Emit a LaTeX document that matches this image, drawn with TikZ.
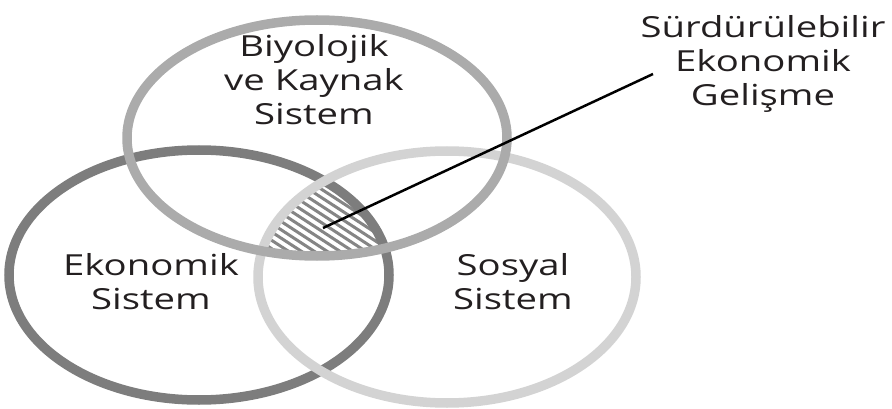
\documentclass[tikz,border=0pt]{standalone}
\usepackage{fontspec}
\setmainfont{Open Sans}[FakeStretch=1.32]
\definecolor{ringdark}{HTML}{7D7D7D}
\definecolor{ringmid}{HTML}{ABABAB}
\definecolor{ringlight}{HTML}{D3D3D3}
\definecolor{hatchgray}{HTML}{858585}
\definecolor{txt}{HTML}{231F20}
\tikzset{
  ring/.style={line width=9.5pt},
  lbl/.style={align=center, text=txt, font=\fontsize{29}{34}\selectfont, inner sep=0pt},
}
\begin{document}
\begin{tikzpicture}[x=1pt,y=-1pt]
\useasboundingbox (0,0) rectangle (892,409);
% hatched common region
\begin{scope}
  \clip (199,275) ellipse [x radius=190pt, y radius=125pt];
  \clip (447,277) ellipse [x radius=189pt, y radius=126pt];
  \clip (317,138) ellipse [x radius=190pt, y radius=118pt];
  \begin{scope}[shift={(320,230)}, rotate=-33]
    \foreach \k in {-14,...,14}
      \draw[hatchgray, line width=3pt] (-120, 7*\k) -- (120, 7*\k);
  \end{scope}
\end{scope}
\draw[ring, ringdark] (199,275) ellipse [x radius=190pt, y radius=125pt];
\draw[ring, ringlight] (447,277) ellipse [x radius=189pt, y radius=126pt];
\draw[ring, ringmid] (317,138) ellipse [x radius=190pt, y radius=118pt];
% labels
\node[lbl] (bio) at (314,80) {Biyolojik\\ve Kaynak\\Sistem};
\node[lbl] (eko) at (151,282) {Ekonomik\\Sistem};
\node[lbl] (sos) at (513,282) {Sosyal\\Sistem};
\node[lbl] (sed) at (763,64) {Sürdürülebilir\\Ekonomik\\Gelişme};
\coordinate (hs) at (323,228);
\coordinate (he) at (653,74);
\draw[black, line width=2.5pt] (hs) -- (he);
\end{tikzpicture}
\end{document}
